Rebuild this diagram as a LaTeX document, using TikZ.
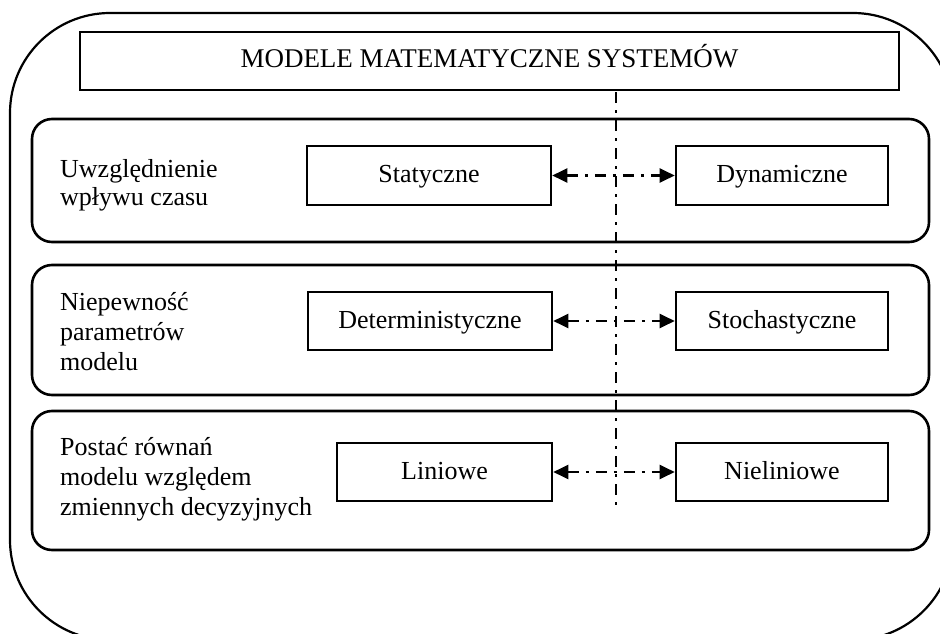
\documentclass[tikz,border=0pt]{standalone}
\usepackage{fontspec}
\setmainfont{Liberation Serif}
\usetikzlibrary{arrows.meta}

\tikzset{
  box/.style={draw, line width=2.6pt, rectangle, inner sep=0pt,
    text height=17pt, text depth=3pt},
  panel/.style={draw, line width=2.6pt, rectangle, rounded corners=20pt, inner sep=0pt},
  lbl/.style={anchor=base west, inner sep=0pt},
  dashdot/.style={line width=2.2pt, dash pattern=on 11pt off 7pt on 3pt off 7pt},
  conn/.style={dashdot, {Triangle[length=15pt,width=14pt]}-{Triangle[length=15pt,width=14pt]}},
}

\begin{document}
\begin{tikzpicture}[x=1pt, y=-1pt, font=\fontsize{26}{30}\selectfont]
  \useasboundingbox (0,0) rectangle (940,634);
  \clip (0,0) rectangle (940,634);

  % outer frame
  \draw[line width=2.2pt, rounded corners=100pt] (10,13) rectangle (953,640);

  % title
  \node[box, minimum width=819pt, minimum height=58pt, font=\fontsize{27}{30}\selectfont]
    (title) at (489.5,61) {MODELE MATEMATYCZNE SYSTEMÓW};

  % row panels
  \node[panel, minimum width=897pt, minimum height=123pt] (p1) at (480.5,180.5) {};
  \node[panel, minimum width=897pt, minimum height=130pt] (p2) at (480.5,330) {};
  \node[panel, minimum width=897pt, minimum height=139pt] (p3) at (480.5,480.5) {};

  % row labels
  \node[lbl] (l1a) at (60,177) {Uwzględnienie};
  \node[lbl] (l1b) at (60,205) {wpływu czasu};
  \node[lbl] (l2a) at (60,310) {Niepewność};
  \node[lbl] (l2b) at (60,340) {parametrów};
  \node[lbl] (l2c) at (60,370) {modelu};
  \node[lbl] (l3a) at (60,455) {Postać równań};
  \node[lbl] (l3b) at (60,485) {modelu względem};
  \node[lbl] (l3c) at (60,515) {zmiennych decyzyjnych};

  % class boxes
  \node[box, minimum width=244pt, minimum height=59pt] (stat) at (429,175.5) {Statyczne};
  \node[box, minimum width=212pt, minimum height=59pt] (dyn) at (782,175.5) {Dynamiczne};
  \node[box, minimum width=244pt, minimum height=58pt] (det) at (430,321) {Deterministyczne};
  \node[box, minimum width=212pt, minimum height=58pt] (sto) at (782,321) {Stochastyczne};
  \node[box, minimum width=215pt, minimum height=58pt] (lin) at (444.5,472) {Liniowe};
  \node[box, minimum width=212pt, minimum height=58pt] (nlin) at (782,472) {Nieliniowe};

  % dividing line
  \coordinate (vtop) at (616,92);
  \coordinate (vbot) at (616,505);
  \draw[dashdot] (vtop) -- (vbot);

  % opposing classes
  \draw[conn] (stat.east) -- (dyn.west);
  \draw[conn] (det.east) -- (sto.west);
  \draw[conn] (lin.east) -- (nlin.west);
\end{tikzpicture}
\end{document}
